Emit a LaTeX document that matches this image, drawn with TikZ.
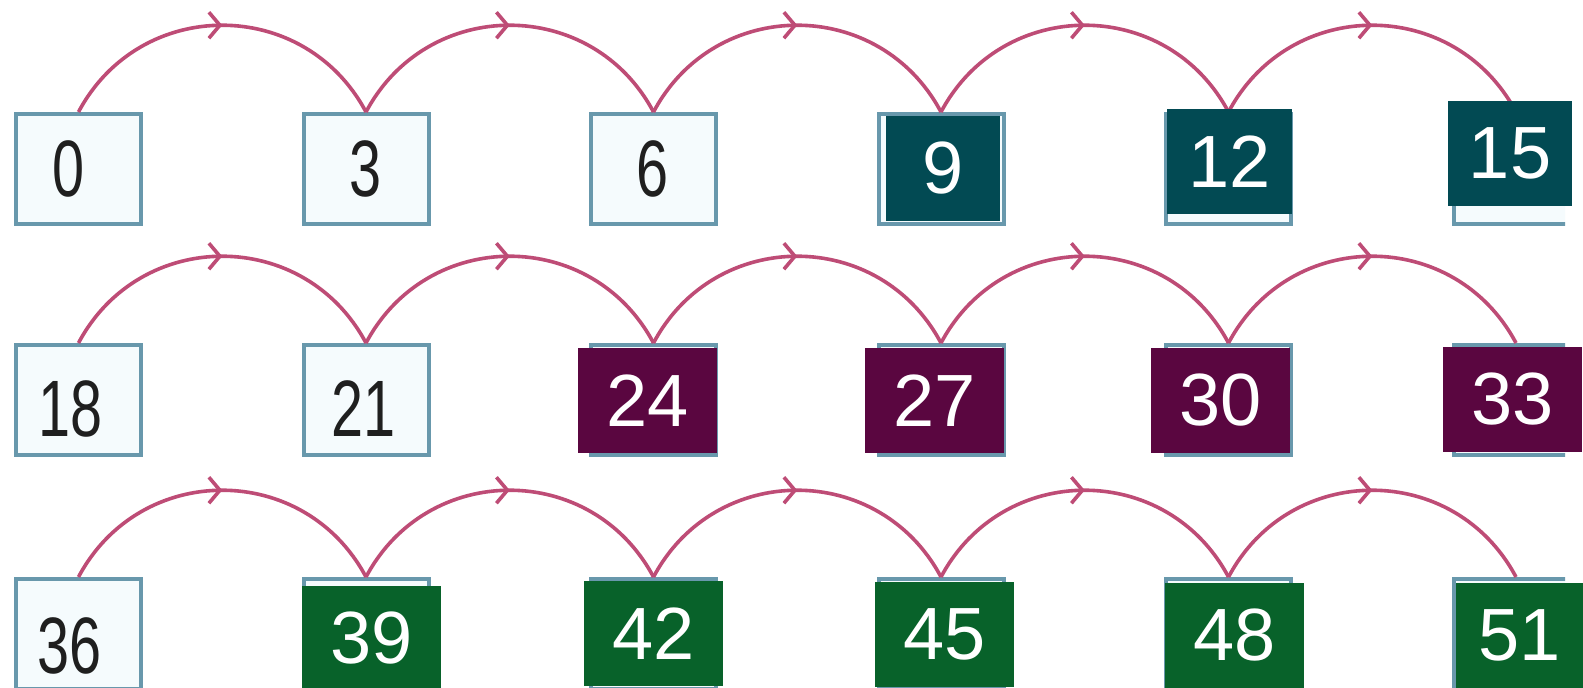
\documentclass[tikz,border=0pt]{standalone}
\usepackage{fontspec}
\setmainfont{Liberation Sans}
\newfontfamily\narrowfont[FakeStretch=0.72]{Liberation Sans}
\usetikzlibrary{arrows.meta,decorations.markings}
\definecolor{boxline}{RGB}{104,152,172}
\definecolor{boxfill}{RGB}{245,251,253}
\definecolor{hop}{RGB}{190,76,118}
\definecolor{tealbox}{RGB}{2,74,83}
\definecolor{plumbox}{RGB}{90,6,64}
\definecolor{greenbox}{RGB}{8,98,42}
\begin{document}
\begin{tikzpicture}[x=1pt,y=-1pt,
  outline/.style={draw=boxline,fill=boxfill,line width=4pt,minimum width=125pt,minimum height=110pt,inner sep=0pt},
  hoparc/.style={hop,line width=3.6pt,postaction={decorate},
    decoration={markings,mark=at position 0.5 with {\arrow{Straight Barb[length=11pt,width=26pt,line width=3.6pt]}}}},
  plain/.style={font=\narrowfont\fontsize{80}{80}\selectfont,text=black!88,inner sep=0pt},
  answer/.style={font=\fontsize{74}{74}\selectfont,text=white,inner sep=0pt,minimum height=105pt}]
\fill[white] (0,0) rectangle (1583,688);
\useasboundingbox (0,0) rectangle (1583,688);
% empty boxes, last column cut off
\begin{scope}
\clip (0,0) rectangle (1565,688);
\foreach \r/\y in {1/169,2/400,3/634}
  \foreach \c in {1,...,6}
    \node[outline] (b-\r-\c) at ({78.5+287.5*(\c-1)},\y) {};
\end{scope}
% hops of three
\foreach \r in {1,2,3}
  \foreach \c/\d in {1/2,2/3,3/4,4/5,5/6}
    \draw[hoparc] (b-\r-\c.north) .. controls +(61.5,-115.7) and +(-61.5,-115.7) .. (b-\r-\d.north);
% printed numbers
\node[plain] (n0) at (68.5,168.5) {0};
\node[plain] (n3) at (366,168.5) {3};
\node[plain] (n6) at (653,168.5) {6};
\node[plain] (n18) at (71,409) {18};
\node[plain] (n21) at (364,409) {21};
\node[plain] (n36) at (69.5,646) {36};
% filled-in answers
\node[answer,fill=tealbox,minimum width=114pt] (a9) at (943,168.5) {9};
\node[answer,fill=tealbox,minimum width=125pt] (a12) at (1229.5,161.5) {12};
\node[answer,fill=tealbox,minimum width=124pt] (a15) at (1510,153.5) {15};
\node[answer,fill=plumbox,minimum width=139pt] (a24) at (647.5,400.5) {24};
\node[answer,fill=plumbox,minimum width=139pt] (a27) at (934.5,400.5) {27};
\node[answer,fill=plumbox,minimum width=139pt] (a30) at (1220.5,400.5) {30};
\node[answer,fill=plumbox,minimum width=139pt] (a33) at (1512.5,399.5) {33};
\node[answer,fill=greenbox,minimum width=139pt] (a39) at (371.5,638.5) {39};
\node[answer,fill=greenbox,minimum width=139pt] (a42) at (653.5,633.5) {42};
\node[answer,fill=greenbox,minimum width=139pt] (a45) at (944.5,634.5) {45};
\node[answer,fill=greenbox,minimum width=139pt] (a48) at (1234.5,635.5) {48};
\node[answer,fill=greenbox,minimum width=127pt] (a51) at (1519.5,635.5) {51};
\end{tikzpicture}
\end{document}
